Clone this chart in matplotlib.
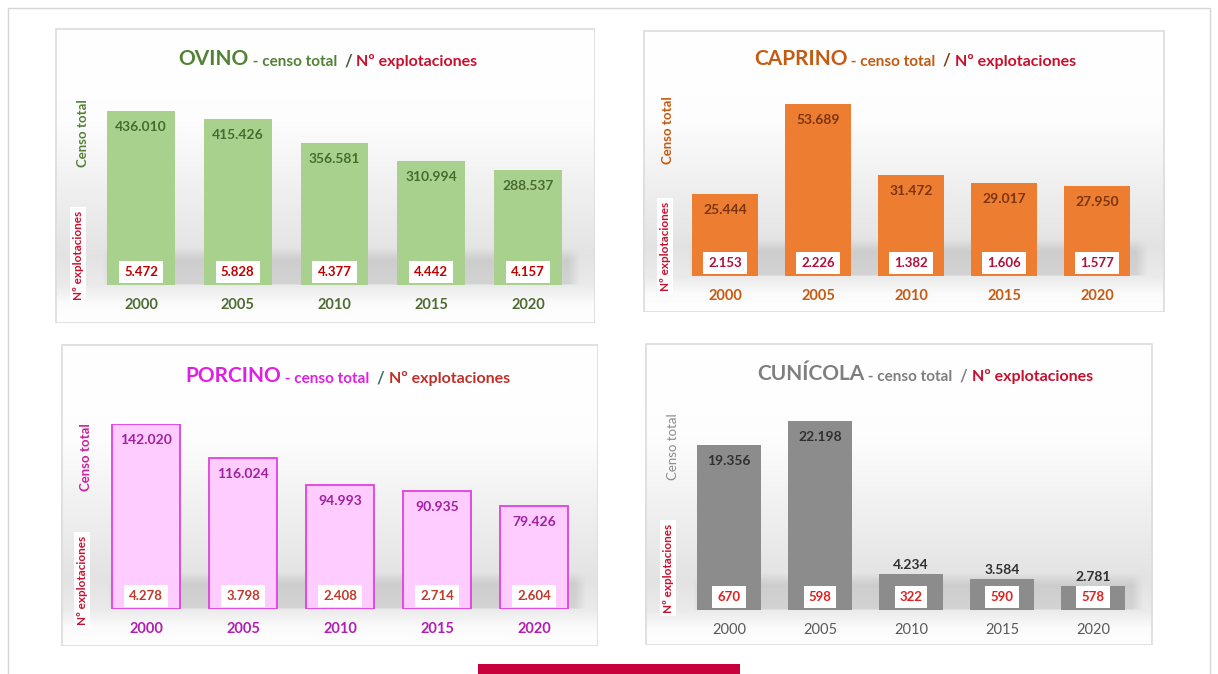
import numpy as np
import matplotlib
matplotlib.use('Agg')
import matplotlib.pyplot as plt
from matplotlib.patches import Rectangle

plt.rcParams['font.family'] = ['Lato', 'DejaVu Sans']

W, H = 1218, 674

years = ['2000', '2005', '2010', '2015', '2020']

ovino_censo = [436010, 415426, 356581, 310994, 288537]
ovino_explot = [5472, 5828, 4377, 4442, 4157]
caprino_censo = [25444, 53689, 31472, 29017, 27950]
caprino_explot = [2153, 2226, 1382, 1606, 1577]
porcino_censo = [142020, 116024, 94993, 90935, 79426]
porcino_explot = [4278, 3798, 2408, 2714, 2604]
cunicola_censo = [19356, 22198, 4234, 3584, 2781]
cunicola_explot = [670, 598, 322, 590, 578]


def fmt(v):
    return f'{v:,}'.replace(',', '.')


# layout of each panel, in pixels of the final image
panels = [
    dict(name='OVINO', censo=ovino_censo, explot=ovino_explot,
         box=(55, 28, 595, 323), c0=141, c4=528, bottom=285, top=111, title_xy=(328, 58),
         bar='#A9D18E', edge='none', main='#548235', slash='#3F5F3A', val='#466B30',
         exc='#C00000', yr='#4E6B32', yr_w='bold', ct='#548235', ct_w='bold',
         ct_xy=(83, 133), ne_xy=(78, 255)),
    dict(name='CAPRINO', censo=caprino_censo, explot=caprino_explot,
         box=(643, 30, 1165, 312), c0=725, c4=1097, bottom=276, top=104, title_xy=(915, 58),
         bar='#ED7D31', edge='none', main='#C55A11', slash='#843C0C', val='#7A3510',
         exc='#B0103A', yr='#C55A11', yr_w='bold', ct='#C55A11', ct_w='bold',
         ct_xy=(668, 130), ne_xy=(665, 246)),
    dict(name='PORCINO', censo=porcino_censo, explot=porcino_explot,
         box=(61, 344, 598, 646), c0=146, c4=534, bottom=609, top=424, title_xy=(348, 375),
         bar='#FFCCFF', edge='#E040E0', main='#E020E0', slash='#3F6F5F', val='#A020A0',
         exc='#C0392B', yr='#B020B0', yr_w='bold', ct='#CC1FA0', ct_w='bold',
         ct_xy=(86, 457), ne_xy=(82, 580)),
    dict(name='CUNÍCOLA', censo=cunicola_censo, explot=cunicola_explot,
         box=(645, 343, 1153, 645), c0=729, c4=1093, bottom=610, top=421, title_xy=(925, 373),
         bar='#8C8C8C', edge='none', main='#7F7F7F', slash='#7F7F7F', val='#303030',
         exc='#E02020', yr='#595959', yr_w='normal', ct='#8C8C8C', ct_w='normal',
         ct_xy=(673, 447), ne_xy=(668, 568)),
]

fig = plt.figure(figsize=(W / 100, H / 100), dpi=100)
fig.patch.set_facecolor('white')

# thin frame round the page
frame = fig.add_axes([0, 0, 1, 1], zorder=-10)
frame.set_xlim(0, W)
frame.set_ylim(H, 0)
frame.axis('off')
frame.add_patch(Rectangle((8, 8), 1202, 700, fill=False, ec='#d6d6d6', lw=1))
frame.add_patch(Rectangle((478, 664), 262, 12, fc='#C8003C', ec='none'))

title_chains = []

for p in panels:
    x0, y0, x1, y1 = p['box']
    w, h = x1 - x0, y1 - y0
    sp = (p['c4'] - p['c0']) / 4

    # background with soft grey gradient and floor shadow
    bg = fig.add_axes([x0 / W, 1 - y1 / H, w / W, h / H], zorder=0)
    yy = np.arange(h) + y0
    g = np.interp(yy, [y0, y0 + 0.3 * h, p['bottom'] - 30, p['bottom'], p['bottom'] + 18, y1],
                  [1.0, 0.995, 0.89, 0.92, 0.985, 1.0])
    img = np.repeat(g[:, None], w, axis=1)
    xx = np.arange(w) + x0
    fl_l = p['c0'] - 0.35 * sp - 5
    fl_r = p['c4'] + 0.35 * sp + 18
    xm = np.clip(np.minimum(xx - fl_l, fl_r - xx) / 12, 0, 1)
    ym = np.interp(yy, [p['bottom'] - 38, p['bottom'] - 25, p['bottom'] - 2, p['bottom']],
                   [0, 1, 1, 0])
    img = img - 0.09 * ym[:, None] * xm[None, :]
    rgb = np.dstack([img, img, img])
    bg.imshow(rgb, extent=(0, w, h, 0), aspect='auto', interpolation='bilinear')
    bg.set_xlim(0, w)
    bg.set_ylim(h, 0)
    bg.axis('off')
    bg.add_patch(Rectangle((0.5, 0.5), w - 1, h - 1, fill=False, ec='#dcdcdc', lw=1.2))

    # multi colour title
    tx, ty = p['title_xy']
    parts = [(p['name'], p['main'], 15),
             (' - censo total ', p['main'], 11),
             (' / ', p['slash'], 12),
             ('Nº explotaciones', '#C8102E' if p['name'] != 'PORCINO' else '#C0302A', 11.5)]
    first = bg.text(tx - x0, ty - y0 + 11, parts[0][0], color=parts[0][1], fontsize=parts[0][2],
                    fontweight='bold', ha='left', va='bottom')
    prev = first
    chain = [first]
    for s, c, fs in parts[1:]:
        t = bg.annotate(s, xy=(1, 0), xycoords=prev, color=c, fontsize=fs,
                        fontweight='bold', ha='left', va='bottom')
        chain.append(t)
        prev = t
    title_chains.append((chain, tx, x0))

    # bars
    ax = fig.add_axes([(p['c0'] - sp / 2) / W, 1 - p['bottom'] / H,
                       5 * sp / W, (p['bottom'] - p['top']) / H], zorder=2)
    vmax = max(p['censo'])
    ax.bar(range(5), p['censo'], width=0.7, color=p['bar'], edgecolor=p['edge'],
           linewidth=1.3 if p['edge'] != 'none' else 0)
    ax.set_xlim(-0.5, 4.5)
    ax.set_ylim(0, vmax)
    ax.axis('off')
    hpx = p['bottom'] - p['top']
    for i, (v, e) in enumerate(zip(p['censo'], p['explot'])):
        bar_h = v / vmax * hpx
        off = -16 if bar_h > 45 else 9
        ax.annotate(fmt(v), xy=(i, v), xytext=(0, off * 0.72), textcoords='offset points',
                    ha='center', va='center', fontsize=10, color=p['val'],
                    fontweight='bold', annotation_clip=False)
        ax.annotate(fmt(e), xy=(i, 0), xytext=(0, 13 * 0.72), textcoords='offset points',
                    ha='center', va='center', fontsize=9.5, color=p['exc'], fontweight='bold',
                    bbox=dict(boxstyle='square,pad=0.38', fc='white', ec='none'),
                    annotation_clip=False)
        ax.annotate(years[i], xy=(i, 0), xytext=(0, -20 * 0.72), textcoords='offset points',
                    ha='center', va='center', fontsize=10.5, color=p['yr'],
                    fontweight=p['yr_w'], annotation_clip=False)

    # side labels
    cx, cy = p['ct_xy']
    fig.text(cx / W, 1 - cy / H, 'Censo total', rotation=90, ha='center', va='center',
             fontsize=9.5, color=p['ct'], fontweight=p['ct_w'], zorder=3)
    nx, ny = p['ne_xy']
    fig.text(nx / W, 1 - ny / H, 'Nº explotaciones', rotation=90, ha='center', va='center',
             fontsize=8.5, color='#C8102E', fontweight='bold', zorder=3,
             bbox=dict(boxstyle='square,pad=0.25', fc='white', ec='none'))

# centre the titles
fig.canvas.draw()
for chain, tx, x0 in title_chains:
    left = chain[0].get_window_extent().x0
    right = chain[-1].get_window_extent().x1
    width = right - left
    px, py = chain[0].get_position()
    chain[0].set_position((tx - x0 - width / 2, py))

fig.savefig('out.png', dpi=100, facecolor='white')
